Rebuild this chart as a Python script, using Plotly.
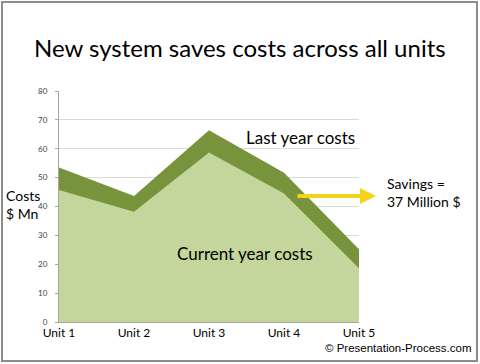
import plotly.graph_objects as go

units = ["Unit 1", "Unit 2", "Unit 3", "Unit 4", "Unit 5"]
last_year = [53.5, 43.6, 66.4, 51.7, 25.2]
current_year = [45.7, 38.2, 58.7, 44.5, 18.6]
y_ticks = [0, 10, 20, 30, 40, 50, 60, 70, 80]

W, H = 480, 364
L, R, T, B = 59, 121, 91, 42
PW, PH = W - L - R, H - T - B

def px_x(px):
    return (px - L) / PW

def px_y(py):
    return (H - B - py) / PH

xs = list(range(len(units)))
FONT = "Lato"

fig = go.Figure()
fig.add_trace(go.Scatter(x=xs, y=last_year, mode="lines", line=dict(width=0, color="#77933C"),
                         fill="tozeroy", fillcolor="#77933C", hoverinfo="skip", showlegend=False))
fig.add_trace(go.Scatter(x=xs, y=current_year, mode="lines", line=dict(width=0, color="#C3D69B"),
                         fill="tozeroy", fillcolor="#C3D69B", hoverinfo="skip", showlegend=False))

fig.update_layout(
    width=W, height=H, autosize=False,
    margin=dict(l=L, r=R, t=T, b=B, pad=0),
    paper_bgcolor="white", plot_bgcolor="white",
    showlegend=False,
    font=dict(family=FONT, color="#000000"),
    xaxis=dict(range=[0, 4], tickvals=xs, ticktext=units, showgrid=False, zeroline=False,
               showline=True, linecolor="#A6A6A6", linewidth=1, ticks="",
               tickfont=dict(size=12, color="#000000", family=FONT)),
    yaxis=dict(range=[0, 80], tickvals=y_ticks, showgrid=True, gridcolor="#D9D9D9", gridwidth=1,
               zeroline=False, showline=True, linecolor="#A6A6A6", linewidth=1,
               ticks="outside", ticklen=3, tickcolor="#A6A6A6",
               tickfont=dict(size=8, color="#404040", family=FONT), ticklabelstandoff=6),
)

annotations = [
    dict(text="New system saves costs across all units", x=px_x(240), y=px_y(48), xref="paper", yref="paper",
         showarrow=False, font=dict(size=24, family=FONT, color="#000"), xanchor="center", yanchor="middle"),
    dict(text="Costs<br>$ Mn", x=px_x(4), y=px_y(204), xref="paper", yref="paper", showarrow=False,
         align="left", xanchor="left", yanchor="middle", font=dict(size=14, family=FONT, color="#000")),
    dict(text="Last year costs", x=px_x(300), y=px_y(137), xref="paper", yref="paper", showarrow=False,
         font=dict(size=17, family=FONT, color="#000"), xanchor="center", yanchor="middle"),
    dict(text="Current year costs", x=px_x(245), y=px_y(253), xref="paper", yref="paper", showarrow=False,
         font=dict(size=17, family=FONT, color="#000"), xanchor="center", yanchor="middle"),
    dict(text="Savings =<br>37 Million $", x=px_x(385), y=px_y(192), xref="paper", yref="paper", showarrow=False,
         align="left", xanchor="left", yanchor="middle", font=dict(size=14, family=FONT, color="#000")),
    dict(text="© Presentation-Process.com", x=px_x(474), y=px_y(348), xref="paper", yref="paper", showarrow=False,
         xanchor="right", yanchor="middle", font=dict(size=11.5, family="Liberation Sans", color="#000")),
    dict(text="", x=px_x(376), y=px_y(196), xref="paper", yref="paper", ax=-80, ay=0,
         axref="pixel", ayref="pixel", showarrow=True, arrowhead=2, arrowsize=0.8, arrowwidth=4,
         arrowcolor="#F5D218"),
]
fig.update_layout(annotations=annotations)

fig.add_shape(type="rect", xref="paper", yref="paper", x0=px_x(2), x1=px_x(477), y0=px_y(361), y1=px_y(2),
              line=dict(color="#8C8C8C", width=2), fillcolor="rgba(0,0,0,0)", layer="above")

fig.write_html("out.html", config={"displayModeBar": False},
               post_script="document.body.style.margin='0';")
